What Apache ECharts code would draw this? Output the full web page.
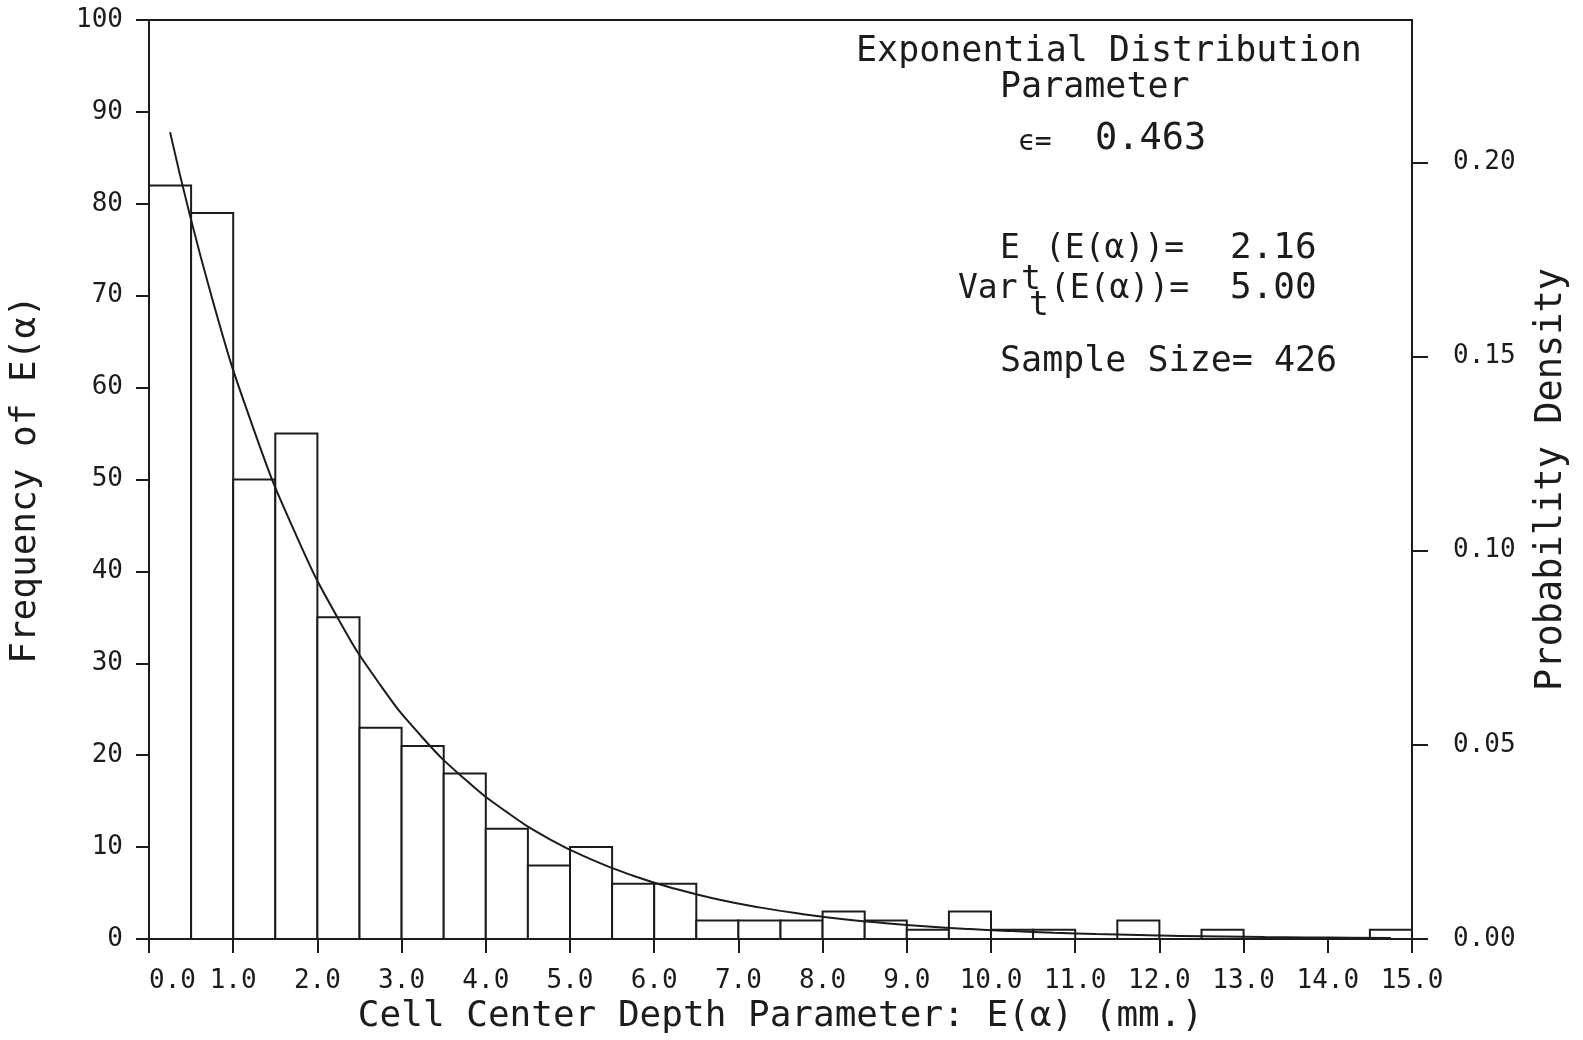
<!DOCTYPE html>
<html>
<head>
<meta charset="utf-8">
<script src="https://cdn.jsdelivr.net/npm/echarts@6/dist/echarts.min.js"></script>
<style>
  html, body { margin: 0; padding: 0; background: #fff; }
  #chart { width: 1583px; height: 1040px; }
</style>
</head>
<body>
<div id="chart"></div>
<script>
// Histogram of cell center depth parameter E(α), bins of 0.5 mm
const binWidth = 0.5;
const binStarts = [0.0, 0.5, 1.0, 1.5, 2.0, 2.5, 3.0, 3.5, 4.0, 4.5,
                   5.0, 5.5, 6.0, 6.5, 7.0, 7.5, 8.0, 8.5, 9.0, 9.5,
                   10.0, 10.5, 11.0, 11.5, 12.0, 12.5, 13.0, 13.5, 14.0, 14.5];
const counts = [82, 79, 50, 55, 35, 23, 21, 18, 12, 8,
                10, 6, 6, 2, 2, 2, 3, 2, 1, 3,
                1, 1, 0, 2, 0, 1, 0, 0, 0, 1];

// Fitted exponential curve, expressed as expected counts per bin
const curveX = [0.25, 0.75, 1.25, 1.75, 2.25, 2.75, 3.25, 3.75, 4.25, 4.75,
                5.25, 5.75, 6.25, 6.75, 7.25, 7.75, 8.25, 8.75, 9.25, 9.75,
                10.25, 10.75, 11.25, 11.75, 12.25, 12.75, 13.25, 13.75, 14.25, 14.75];
const curveY = [87.8, 69.7, 55.3, 43.9, 34.8, 27.6, 21.9, 17.4, 13.8, 10.9,
                8.67, 6.88, 5.46, 4.33, 3.44, 2.73, 2.16, 1.72, 1.36, 1.08,
                0.86, 0.68, 0.54, 0.43, 0.34, 0.27, 0.21, 0.17, 0.135, 0.107];

const densityTicks = [0, 0.05, 0.10, 0.15, 0.20];

const FONT = "'DejaVu Sans Mono', monospace";
const INK = '#1c1c1c';

const histData = binStarts.map((s, i) => [s, s + binWidth, counts[i]]);
const curveData = curveX.map((x, i) => [x, curveY[i]]);

const chart = echarts.init(document.getElementById('chart'), null, { renderer: 'canvas' });

function txt(left, top, text, size) {
  return { type: 'text', left: left, top: top,
           style: { text: text, font: `${size}px ${FONT}`, fill: INK } };
}
function txtMid(x, y, text, size) {
  return { type: 'text', x: x, y: y,
           style: { text: text, font: `${size}px ${FONT}`, fill: INK,
                    align: 'left', verticalAlign: 'middle' } };
}

const option = {
  backgroundColor: '#fff',
  animation: false,
  grid: {
    left: 149, right: 171, top: 20, bottom: 101,
    outerBoundsMode: 'none', containLabel: false,
    show: true, borderColor: INK, borderWidth: 2, backgroundColor: 'transparent'
  },
  xAxis: {
    type: 'value', min: 0, max: 15, interval: 1,
    name: 'Cell Center Depth Parameter: E(α) (mm.)',
    nameLocation: 'middle', nameGap: 56,
    nameTextStyle: { fontFamily: FONT, fontSize: 36, color: INK },
    axisLine: { onZero: false, lineStyle: { color: INK, width: 2 } },
    axisTick: { inside: false, length: 14, lineStyle: { color: INK, width: 2 } },
    axisLabel: {
      margin: 29, fontFamily: FONT, fontSize: 26, color: INK,
      alignMinLabel: 'left',
      formatter: v => v.toFixed(1)
    },
    splitLine: { show: false }
  },
  yAxis: [
    {
      type: 'value', min: 0, max: 100, interval: 10, position: 'left',
      name: 'Frequency of E(α)',
      nameLocation: 'middle', nameGap: 105, nameRotate: 90,
      nameTextStyle: { fontFamily: FONT, fontSize: 36, color: INK },
      axisLine: { show: true, lineStyle: { color: INK, width: 2 } },
      axisTick: { show: true, inside: false, length: 13, lineStyle: { color: INK, width: 2 } },
      axisLabel: { margin: 26, fontFamily: FONT, fontSize: 26, color: INK },
      splitLine: { show: false }
    },
    {
      type: 'value', min: 0, max: 0.2367, position: 'right', alignTicks: false,
      name: 'Probability Density',
      nameLocation: 'middle', nameGap: 121, nameRotate: 90,
      nameTextStyle: { fontFamily: FONT, fontSize: 37, color: INK },
      axisLine: { show: true, lineStyle: { color: INK, width: 2 } },
      axisTick: { show: true, inside: false, length: 16, customValues: densityTicks,
                  lineStyle: { color: INK, width: 2 } },
      axisLabel: { margin: 41, fontFamily: FONT, fontSize: 26, color: INK,
                   customValues: densityTicks, formatter: v => v.toFixed(2) },
      splitLine: { show: false }
    }
  ],
  series: [
    {
      type: 'custom',
      xAxisIndex: 0, yAxisIndex: 0,
      data: histData,
      renderItem: function (params, api) {
        const p0 = api.coord([api.value(0), 0]);
        const p1 = api.coord([api.value(1), api.value(2)]);
        return {
          type: 'rect',
          shape: { x: p0[0], y: p1[1], width: p1[0] - p0[0], height: p0[1] - p1[1] },
          style: { fill: '#fff', stroke: INK, lineWidth: 2 }
        };
      },
      z: 2
    },
    {
      type: 'line',
      xAxisIndex: 0, yAxisIndex: 0,
      data: curveData,
      smooth: true,
      showSymbol: false,
      lineStyle: { color: INK, width: 2 },
      z: 3
    }
  ],
  graphic: [
    txt(856, 34, 'Exponential Distribution', 35),
    txt(1000, 70, 'Parameter', 35),
    txtMid(1018, 143, 'ϵ=', 28),
    txtMid(1095, 139, '0.463', 37),

    // E_t(E(α)) = 2.16
    txtMid(1000, 249, 'E', 33),
    txtMid(1021, 280, 't', 33),
    txtMid(1045, 249, '(E(α))=', 33),
    txtMid(1230, 249, '2.16', 36),

    // Var_t(E(α)) = 5.00
    txtMid(958, 289, 'Var', 33),
    txtMid(1029, 306, 't', 33),
    txtMid(1050, 289, '(E(α))=', 33),
    txtMid(1230, 289, '5.00', 36),

    txtMid(1000, 362, 'Sample Size= 426', 35)
  ]
};

chart.setOption(option);
</script>
</body>
</html>
